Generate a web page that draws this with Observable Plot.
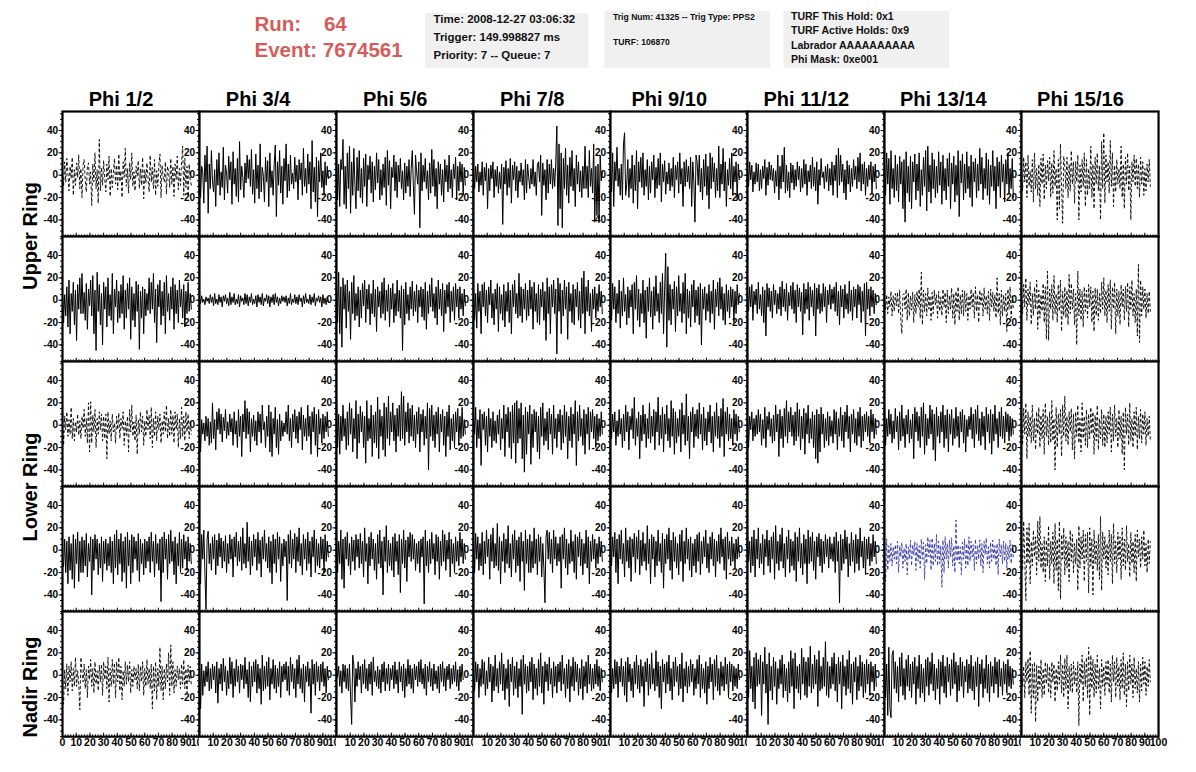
<!DOCTYPE html>
<html><head><meta charset="utf-8">
<script src="https://cdn.jsdelivr.net/npm/d3@7"></script>
<script src="https://cdn.jsdelivr.net/npm/@observablehq/plot@0.6"></script>
<style>
html,body{margin:0;padding:0;background:#fff;}
#root{position:relative;width:1196px;height:772px;overflow:hidden;font-family:"Liberation Sans",Arial,Helvetica,sans-serif;}
.panel{position:absolute;}
.panel svg{overflow:visible;display:block;background:#fff;max-width:none;font-family:"Liberation Sans",Arial,sans-serif;font-weight:bold;}
#overlay{position:absolute;left:0;top:0;}
</style></head><body><div id="root"></div>
<script>
// ---- labels ----
const phiTitles = ["Phi 1/2","Phi 3/4","Phi 5/6","Phi 7/8","Phi 9/10","Phi 11/12","Phi 13/14","Phi 15/16"];
const ringNames = ["Upper Ring","Lower Ring","Nadir Ring"];
const yTicks = [-40,-20,0,20,40];
const xTicks = [0,10,20,30,40,50,60,70,80,90,100];
const runText = "Run:    64";
const eventText = "Event: 7674561";
const box1Lines = ["Time: 2008-12-27 03:06:32","Trigger: 149.998827 ms","Priority: 7 -- Queue: 7"];
const box2Lines = ["Trig Num: 41325 -- Trig Type: PPS2","TURF: 106870"];
const box3Lines = ["TURF This Hold: 0x1","TURF Active Holds: 0x9","Labrador AAAAAAAAAA","Phi Mask: 0xe001"];
const DT = 0.79; // sample spacing (ns)

// ---- waveforms (mV): upper ring, top row ----
const U1_1=[4,-10,12,-6,15,2,-14,8,-3,16,-18,5,-9,11,-2,18,-12,6,-20,9,14,-4,-15,8,11,-8,3,-27,10,-6,20,-12,5,-25,32,-14,7,-9,13,-3,-15,10,-4,17,-19,6,-11,2,15,-8,9,-13,19,-6,4,-20,12,-2,24,-10,6,-16,11,-4,20,-10,3,-14,8,-1,13,-12,6,-9,16,-21,5,-7,11,-3,-15,18,-6,7,-12,14,-18,4,-10,9,19,-20,9,-2,-6,12,-17,8,3,-11,15,-8,8,-19,10,-4,17,-13,6,-9,12,26,-18,15,-11,8,-19,10,-4,-9];
const U1_2=[12,-20,8,3,-25,18,-6,26,-34,10,-12,22,-5,-15,5,-28,14,-9,20,-18,3,-11,25,-22,9,2,-16,17,-4,12,-26,21,-8,6,-19,15,-24,30,-13,8,-2,-20,11,-7,18,-3,14,-10,23,-17,5,-25,19,-12,9,-21,28,-15,7,-1,-24,16,-6,13,-28,20,-11,4,-18,10,27,-37,12,-9,22,-16,8,-26,15,-5,28,-20,10,-14,18,-8,2,-12,16,-6,9,-22,14,-4,11,-18,24,-10,6,-16,19,-8,12,-30,31,-15,7,-24,16,-37,13,-6,20,-11,4,-18,12,-9,8,-3];
const U1_3=[18,-22,10,-28,14,5,32,-26,8,-30,20,-12,26,-34,12,-18,24,-8,-30,16,-14,22,-20,6,-25,15,-10,19,-28,9,-4,17,-16,12,-24,8,-13,20,-7,14,-22,5,-18,10,-11,16,-27,22,-9,13,-30,7,-2,18,-14,12,-20,9,-6,15,-12,4,-22,11,-16,8,-10,14,-19,6,22,-9,-35,18,3,-8,12,-47,20,-14,9,-6,15,-12,4,-22,11,-16,23,-10,14,-19,6,-30,12,-8,10,-18,5,-24,14,-6,9,-15,18,-12,5,-20,10,-3,16,-22,8,-14,12,-6,10,-18,7,-9];
const U1_4=[4,-12,8,-6,10,-15,3,-9,12,-18,7,-5,11,-30,6,-14,9,-3,12,-20,5,-10,8,-16,3,-12,10,-44,7,-8,13,-18,6,-11,15,-25,9,-4,12,-14,8,-20,4,-6,11,-9,5,-22,14,-16,10,-2,-12,6,-8,14,-10,3,-18,9,12,-6,18,-36,11,-9,5,-22,14,-16,10,-8,14,-12,6,-10,12,44,-45,28,-30,20,-47,15,-12,24,-18,9,-25,16,-10,22,-14,6,-28,18,-8,12,-15,4,-20,8,-12,26,-12,8,-20,22,-10,6,-16,28,-42,8,-36,10,-40,18,-5,3];
const U1_5=[8,-15,20,-28,12,-5,25,-10,6,-18,10,-22,28,38,-18,-8,14,-20,6,-12,18,-25,9,-14,22,-30,12,-6,16,-11,20,-18,5,-10,14,-22,8,-16,12,-4,18,-20,7,-12,15,-9,20,-24,10,-6,13,-17,3,-8,11,-14,6,-10,16,-20,9,-4,12,-16,20,-8,6,-28,12,-10,14,-6,8,-12,16,-28,12,-6,-42,18,12,-9,18,-15,6,-22,14,-10,19,-18,8,-30,20,-12,16,-6,11,-20,6,-14,26,-20,10,-8,24,-14,12,-28,5,-9,15,-12,20,-18,8,-6,12,-22,10,-4];
const U1_6=[6,-10,12,-4,9,-15,3,-8,11,-6,10,-14,5,-12,8,-3,14,-18,7,-9,12,-4,9,-5,6,-16,4,-10,18,-22,8,-12,18,-6,25,-16,9,-14,3,-20,11,-7,9,-13,5,-10,12,-4,8,-15,6,-11,14,-8,10,-18,4,-6,9,-12,16,-10,7,-14,12,-26,5,-9,15,-2,3,-12,8,-6,10,-14,6,-9,12,-18,9,-5,18,-20,24,-9,18,-6,10,-16,5,-22,13,-8,9,-15,6,-10,14,-4,8,-12,16,-6,20,-14,10,-8,12,-18,6,-10,9,-4,12,-16,8,-6,10,-12];
const U1_7=[10,-18,20,-8,15,-26,22,-12,6,-20,18,-14,10,-24,17,-8,12,-30,14,-42,21,-16,8,-24,17,-30,12,-6,19,-22,10,-14,20,-28,5,-18,16,-10,22,-32,26,-15,9,-25,20,-12,14,-20,8,-16,21,-9,12,-26,18,-14,6,-22,15,-10,20,-30,11,-8,17,-24,9,-18,22,-37,13,-7,19,-22,10,-16,21,-12,8,-20,18,-28,12,-6,15,-20,10,-14,24,-8,16,-22,6,-12,20,-18,14,-26,9,-10,22,-14,8,-30,16,-10,12,-20,18,-6,10,-24,14,-8,20,-16,6,-12,15,-20];
const U1_8=[8,-14,16,-6,12,-20,18,-10,4,-15,14,-24,20,-12,6,-18,10,-28,15,-8,19,-22,9,-12,13,-5,16,-20,11,-16,22,-10,6,-40,14,-30,28,-10,-43,17,8,-12,16,-20,10,-14,22,-8,12,-25,12,-6,18,-40,9,-15,14,-10,20,-28,14,-18,6,-12,26,-20,10,-30,16,-8,20,-14,8,-40,30,-12,38,-25,18,-6,12,-16,31,-10,20,-28,9,-15,14,-8,6,-12,26,-20,10,-30,16,-8,20,-14,8,-40,12,-6,18,-10,15,-12,10,-20,16,-8,12,-18,6,-14,10,-6,14,-10];
// ---- upper ring, bottom row ----
const U2_1=[8,-20,5,-14,12,-24,18,-30,6,-10,16,-22,9,-36,14,-8,20,-12,24,-12,7,-18,15,-26,10,-5,18,-14,22,-30,9,-45,25,-10,14,-22,6,-40,16,-8,12,-24,20,-14,5,-18,24,-30,10,-6,18,-20,8,-16,14,-12,22,-26,9,-16,15,-8,20,-35,12,-18,6,-24,17,-10,14,-44,8,-16,12,-30,10,-14,6,-9,20,-12,16,-8,24,-20,10,-38,14,-6,18,-22,8,-14,16,-30,22,-10,6,-18,12,-8,20,-26,14,-12,9,-20,18,-6,10,-16,14,-24,8,-12,16,-10,6,-8];
const U2_2=[2,-3,4,-2,1,-4,3,-1,2,-3,5,-2,3,-5,6,-3,1,-4,5,-2,3,-6,4,-1,5,-3,2,-5,7,-4,3,-2,6,-4,1,-3,5,-6,4,-1,2,-4,6,-3,5,-5,3,-2,6,-4,1,-3,4,-6,5,-2,3,-4,6,-5,2,-1,5,-3,4,-6,3,-2,5,-4,6,-2,3,-5,2,-3,4,-1,3,-2,4,-5,2,-3,6,-4,1,-2,5,-3,3,-4,5,-1,2,-6,4,-3,6,-2,1,-3,5,-4,3,-2,6,-5,2,-1,4,-2,3,-6,5,-3,2,-4,3,-1];
const U2_3=[16,-20,25,-30,12,-42,20,-8,14,-25,18,-10,8,-35,16,-12,22,-18,6,-14,12,-24,9,-16,15,-5,18,-20,10,-8,14,-22,6,-12,18,-15,10,-28,12,-6,8,-16,16,-12,20,-18,9,-10,14,-24,11,-8,15,-20,6,-14,18,-10,9,-16,13,-45,10,-22,16,-12,5,-18,12,-8,17,-14,8,-10,14,-20,9,-6,12,-15,10,-18,16,-26,8,-12,14,-6,20,-10,6,-16,12,-22,18,-8,10,-14,15,-28,9,-12,14,-6,16,-20,8,-10,12,-18,15,-6,10,-16,12,-8,6,-14,10,-5];
const U2_4=[12,-18,6,-25,15,-10,8,-30,14,-6,16,-14,9,-20,12,-4,18,-16,6,-22,10,-8,15,-28,12,-12,5,-18,14,-24,8,-10,16,-20,9,-30,14,-6,18,-12,6,-16,24,-14,12,-20,10,-8,15,-18,9,-14,18,-8,12,-26,16,-10,6,-20,14,-22,10,-6,16,-18,8,-36,20,-12,12,-30,14,-6,18,-12,10,-48,20,-10,15,-30,9,-14,18,-8,12,-35,16,-10,6,-20,14,-22,10,-6,16,-18,8,-25,20,-12,26,-30,12,-10,18,-14,6,-28,10,-8,12,-16,6,-10,14,-6,8,-12];
const U2_5=[10,-18,15,-8,12,-20,6,-12,18,-25,8,-14,20,-10,5,-22,12,-16,9,-6,14,-30,16,-8,22,-18,10,-24,6,-12,18,-20,9,-34,12,-10,20,-15,8,-26,12,-14,22,-10,6,-20,16,-12,24,-30,10,42,-42,30,-18,14,-22,10,-8,17,-28,12,-14,22,-10,6,-20,16,-12,24,-30,10,-16,8,-24,14,-6,18,-20,9,-14,12,-22,15,-40,10,-8,12,-18,6,-10,14,-20,8,-12,18,-26,10,-6,16,-14,20,-8,12,-18,6,-22,14,-10,9,-16,12,-6,10,-20,8,-12,14,-4,6];
const U2_6=[6,-10,12,-6,14,-18,8,-4,10,-12,16,-8,5,-14,12,-20,9,-32,15,-6,11,-10,8,-16,14,-4,9,-12,6,-8,12,-14,17,-6,10,-10,15,-18,7,-5,13,-8,16,-12,9,-20,14,-6,11,-10,7,-31,15,-12,10,-8,16,-18,12,-6,9,-14,15,-32,11,-8,14,-12,6,-10,15,-6,12,-20,9,-4,14,-8,10,-3,12,-10,16,-14,8,-22,13,-6,10,-16,14,-8,6,-12,17,-10,9,-18,12,-6,10,-16,14,-4,12,-20,8,-10,15,-32,16,-8,10,-14,12,-6,9,-12,6,-4];
const U2_7=[2,-8,5,-12,3,-6,8,-14,4,-10,6,-5,7,-12,9,-16,-30,5,6,-8,10,-18,7,-14,4,-9,7,-20,5,-12,8,-6,10,-16,25,-22,9,-10,6,-14,11,-8,4,-18,7,-12,9,-4,5,-16,8,-10,3,-14,10,-6,7,-20,9,-12,4,-8,11,-16,6,-22,8,-10,12,-18,5,-12,9,-14,8,-10,6,-18,4,-8,10,-6,7,-16,12,-10,5,-20,9,-4,6,-14,11,-8,4,-12,8,-18,10,-6,7,-10,5,-16,20,-12,6,-22,9,-14,5,-10,6,-28,10,-8,12,-16,4,-8];
const U2_8=[8,-12,14,-6,20,-18,10,-4,16,-22,6,-14,12,-8,18,-26,9,-16,5,-10,15,-20,12,-35,26,-36,10,-8,14,-18,22,-12,6,-20,14,-10,18,-28,8,-14,12,-16,9,-22,23,-12,15,-8,10,-22,6,-40,26,-14,10,-18,8,-24,12,-10,9,-16,14,-6,12,-20,8,-28,11,-14,10,-18,6,-12,16,-8,20,-14,9,-20,14,-10,18,-26,12,-8,16,-30,10,-14,8,-22,14,-6,10,-18,12,-10,16,-24,12,-8,18,-14,6,-20,10,-32,32,-38,18,-14,12,-8,10,-16,6,-12,8,-10];
// ---- lower ring, top row ----
const L1_1=[15,-18,8,-4,12,-10,5,-8,16,-12,6,-14,3,-6,10,-9,4,-12,8,-3,14,-10,6,-16,20,-24,21,-16,9,-6,14,-20,6,-8,12,-4,10,-14,8,-12,10,-30,12,-8,4,-14,10,-6,2,-16,8,-4,11,-12,6,-3,12,-18,4,-9,8,-24,14,-6,18,-10,3,-14,9,-26,5,-8,12,-6,8,-18,4,-10,14,-4,9,-12,16,-20,6,-10,12,-14,8,-4,10,-16,4,-8,12,-6,18,-12,6,-10,14,-8,9,-16,12,-4,10,-20,6,-12,16,-10,8,-14,12,-6,10,-12,4,-8];
const L1_2=[4,-24,5,-8,2,-14,8,-10,6,-18,3,-16,20,-12,5,-22,12,-4,15,-8,10,-15,7,-5,14,-12,3,-9,10,-6,6,-18,12,-8,4,-20,14,-10,8,-28,10,-6,22,-12,15,-8,12,-24,6,-10,9,-14,4,-18,12,-6,10,-16,18,-4,3,-20,8,-10,18,-24,12,-28,6,-8,16,-20,5,-26,10,-14,4,-10,2,-6,12,-8,18,-14,6,-20,10,-6,14,-12,8,-16,12,-4,16,-22,9,-10,6,-14,18,-10,8,-26,12,-6,16,-18,10,-28,14,-8,6,-16,10,-12,8,-6,12,-10];
const L1_3=[25,-20,10,-26,8,-14,18,-10,6,-22,12,-18,20,-8,15,-24,6,-12,22,-30,10,-16,17,-6,12,-20,8,-34,22,-14,6,-12,18,-28,9,-16,12,-20,25,-30,14,-10,8,-22,20,-28,16,-12,26,-18,12,-6,20,-14,9,-24,15,-10,18,-14,30,-12,26,-18,12,-6,20,-16,15,-10,18,-14,9,-20,12,-8,16,-24,10,-6,14,-18,8,-12,20,-40,15,-10,18,-14,9,-20,12,-8,16,-24,10,-6,14,-18,8,-28,12,-10,18,-22,6,-14,10,-20,12,-6,15,-18,8,-12,16,-10,5,-8];
const L1_4=[10,-8,16,-20,5,-12,14,-36,10,-4,12,-18,8,-24,15,-10,6,-20,12,-14,4,-16,9,-8,14,-22,6,-12,18,-28,10,-6,16,-20,12,-30,18,-16,20,-34,22,-16,15,-12,20,-30,9,-42,16,-26,12,-8,18,-35,10,-20,14,-6,12,-24,8,-30,16,-10,20,-18,6,-14,12,-22,15,-8,10,-26,18,-12,6,-20,10,-6,14,-22,9,-16,18,-10,12,-30,8,-14,16,-20,10,-8,22,-36,12,-14,18,-10,6,-18,14,-26,10,-8,16,-22,12,-6,14,-12,8,-20,10,-14,6,-10,12,-8];
const L1_5=[8,-12,10,-6,12,-18,4,-10,14,-8,6,-20,10,-14,18,-6,12,-22,8,-4,15,-12,25,-18,6,-10,12,-30,9,-14,18,-8,10,-20,6,-12,20,-16,8,-10,14,-22,12,-6,25,-18,9,-12,16,-24,10,-8,18,-14,6,-20,22,-10,15,-26,12,-16,6,-10,14,-24,20,-8,9,-18,28,-14,8,-30,12,-6,16,-20,10,-10,14,-12,20,-8,10,-22,16,-14,6,-18,12,-6,18,-16,8,-24,12,-10,20,-12,8,-20,15,-10,24,-28,12,-8,16,-14,10,-12,6,-18,14,-8,10,-14,8,-6];
const L1_6=[10,-20,8,-4,12,-14,6,-10,9,-8,14,-6,10,-18,5,-12,16,-20,8,-4,12,-10,6,-16,9,-14,18,-6,10,-28,14,-12,8,-20,15,-10,22,-16,12,-6,16,-10,9,-18,12,-14,20,-10,14,-22,8,-12,15,-26,11,-8,18,-16,6,-12,12,-20,9,-30,14,-34,10,-24,16,-8,10,-20,6,-14,12,-18,8,-10,4,-16,14,-8,12,-22,6,-10,16,-14,9,-20,12,-6,18,-12,8,-24,10,-8,14,-16,6,-18,12,-10,16,-20,8,-14,10,-6,12,-10,8,-16,14,-6,10,-12,6,-8];
const L1_7=[20,-18,6,-10,14,-8,10,-16,4,-12,15,-6,8,-22,12,-14,18,-10,6,-20,9,-8,14,-16,5,-12,10,-30,16,-6,12,-14,8,-20,16,-10,20,-26,10,-18,6,-12,18,-8,14,-22,10,-32,16,-10,8,-16,12,-6,18,-20,9,-12,14,-24,10,-8,14,-18,6,-12,16,-10,8,-20,12,-6,14,-16,9,-24,5,-10,8,-4,16,-12,10,-20,14,-8,18,-14,6,-18,12,-10,8,-22,16,-6,10,-16,14,-26,10,-14,18,-8,6,-20,12,-10,16,-12,8,-16,12,-6,10,-14,8,-10,6,-8];
const L1_8=[10,-18,15,-8,20,-30,12,-10,8,-16,18,-14,6,-22,12,-8,16,-20,9,-12,14,-26,20,-10,8,-18,12,-16,22,-14,6,-40,16,-20,10,-8,14,-28,18,-10,26,-14,8,-18,12,-6,15,-22,10,-30,12,-10,18,-16,6,-24,20,-12,8,-18,14,-20,10,-12,16,-8,12,-26,9,-14,18,-22,6,-12,14,-18,10,-20,8,-16,12,-8,16,-24,10,-14,18,-10,6,-20,14,-12,8,-26,12,-40,16,-8,10,-18,20,-14,6,-20,12,-10,16,-22,8,-12,14,-16,10,-8,12,-18,6,-10,8,-14];
// ---- lower ring, bottom row ----
const L2_1=[-8,-15,10,-20,8,-30,12,-18,6,-26,14,-34,10,-12,16,-28,8,-20,12,-20,9,-14,15,-24,6,-10,12,-40,10,-18,14,-8,10,-22,6,-16,12,-28,8,-12,10,-18,6,-14,12,-20,8,-30,14,-16,18,-22,10,-12,15,-28,8,-20,12,-34,16,-14,9,-30,14,-20,12,-8,8,-18,15,-28,10,-12,6,-22,10,-16,8,-10,12,-20,16,-10,8,-24,14,-12,6,-18,10,-46,12,-20,16,-8,10,-26,14,-12,18,-10,8,-22,12,-30,6,-14,16,-20,10,-16,14,-8,8,-18,12,-10,6,-12];
const L2_2=[16,-30,14,-8,18,-20,-53,10,17,-12,6,-18,12,-8,14,-22,9,-14,15,-6,11,-16,8,-10,13,-20,6,-12,14,-8,10,-24,12,-6,16,-14,8,-10,12,-18,20,-12,6,-16,25,-10,12,-22,8,-14,14,-6,10,-18,16,-12,9,-24,12,-8,18,-10,6,-16,12,-20,8,-30,14,-12,10,-20,16,-8,12,-28,6,-14,10,-6,8,-45,14,-12,18,-16,10,-8,15,-20,12,-10,20,-14,6,-22,14,-8,10,-18,16,-12,8,-24,12,-6,18,-20,10,-14,6,-16,12,-8,10,-20,14,-10,8,-6];
const L2_3=[15,-20,8,-12,18,-26,10,-34,12,-8,16,-14,6,-22,12,-10,9,-18,14,-6,10,-16,15,-12,8,-24,20,-10,6,-30,12,-14,16,-8,10,-18,6,-26,14,-12,18,-16,8,-40,12,-10,22,-20,9,-14,6,-18,12,-24,15,-10,8,-22,14,-38,10,-12,18,-16,9,-28,12,-6,16,-10,14,-8,10,-18,6,-12,8,-20,10,-6,12,-48,18,-14,8,-20,10,-12,16,-8,6,-22,14,-10,12,-26,8,-14,18,-10,14,-18,9,-8,16,-24,10,-12,6,-20,12,-10,8,-14,16,-6,10,-12,6,-8];
const L2_4=[10,-20,15,-8,12,-18,6,-14,16,-22,8,-12,18,-6,10,-26,14,-10,20,-16,6,-14,24,-18,12,-30,8,-10,15,-20,10,-12,22,-16,6,-24,14,-8,18,-20,9,-14,12,-28,16,-10,8,-36,18,-12,10,-20,14,-20,8,-16,20,-12,10,-22,14,-10,12,-24,6,-16,-47,12,18,-8,16,-12,10,-20,18,-8,12,-14,6,-10,12,-34,14,-8,20,-16,10,-22,6,-12,18,-10,8,-20,14,-26,12,-6,16,-14,10,-22,6,-12,18,-16,12,-30,8,-10,14,-8,10,-16,6,-12,12,-6,8,-10];
const L2_5=[8,-14,12,-6,16,-20,10,-30,14,-8,18,-12,6,-24,20,-10,9,-16,12,-28,10,-6,15,-20,12,-8,18,-22,9,-14,16,-10,6,-18,22,-12,10,-30,14,-8,12,-24,8,-14,18,-10,6,-20,15,-34,10,-12,14,-8,20,-18,9,-26,16,-10,12,-16,6,-22,14,-10,18,-28,8,-12,20,-8,10,-18,12,-24,6,-14,10,-20,14,-10,16,-22,8,-12,12,-6,18,-16,6,-20,12,-8,16,-14,10,-24,8,-10,14,-12,20,-6,10,-18,12,-26,16,-8,8,-14,12,-10,6,-16,10,-8,12,-6];
const L2_6=[15,-10,8,-20,12,-14,18,-24,10,-8,20,-16,6,-12,14,-22,10,-6,18,-14,9,-20,12,-8,16,-26,22,-12,8,-18,14,-10,20,-16,6,-24,12,-8,18,-20,10,-14,8,-18,16,-28,12,-10,20,-16,6,-22,14,-12,10,-30,18,-12,12,-10,16,-18,8,-26,12,-6,15,-14,10,-20,8,-12,14,-6,10,-16,12,-8,6,-10,12,-20,16,-10,8,-47,14,-18,10,-12,18,-8,12,-24,6,-14,16,-10,9,-20,14,-12,10,-18,20,-6,8,-16,12,-22,10,-8,12,-14,6,-10,14,-6,8,-12];
const L2_7=[8,-28,10,-18,4,-10,6,-14,3,-8,5,-12,8,-20,4,-6,7,-16,2,-10,6,-22,3,-8,9,-14,5,-4,8,-18,6,-10,4,-16,10,-8,7,-26,5,-12,12,-6,9,-18,11,-14,6,-10,14,-14,8,-12,4,-33,9,-20,12,-8,6,-16,9,-6,11,-14,4,-20,27,-10,5,-12,3,-22,7,-8,10,-16,6,-14,12,-10,8,-6,5,-18,10,-12,4,-8,9,-14,6,-20,8,-4,11,-12,3,-16,7,-10,9,-8,4,-14,6,-22,10,-6,5,-12,8,-10,6,-16,4,-8,9,-12,5,-6];
const L2_8=[10,-18,26,-8,-45,20,-12,24,-30,8,-14,18,-6,12,-22,26,-10,30,-16,6,-20,12,-28,9,-14,22,-26,8,-12,16,-30,24,-18,10,-36,26,-44,14,-8,20,-22,12,-16,8,-28,18,-10,14,-20,6,-12,10,-36,22,-16,12,-8,18,-28,14,-10,16,-38,20,-14,10,-40,18,-12,8,-18,14,-26,30,-36,16,-8,12,-16,6,-22,18,-10,14,-30,24,-12,8,-20,16,-8,12,-26,20,-14,10,-18,22,-10,6,-24,16,-12,8,-20,14,-28,18,-6,10,-16,12,-8,18,-14,6,-20,10,-12,8];
// ---- nadir ring ----
const N_1=[-20,-26,5,-12,10,-18,8,-6,12,-14,6,-10,16,-10,4,-8,-31,16,3,-6,10,-12,5,-20,8,-4,14,-10,6,-16,12,-8,4,-14,9,-6,10,-18,12,-4,8,-12,16,-24,6,-10,14,-8,11,-20,12,-6,16,-14,8,-22,4,-10,12,-8,9,-6,12,-16,5,-10,8,-4,6,-12,10,-14,8,-6,12,-18,6,-10,14,-8,6,-12,10,-30,8,-14,12,-22,6,-10,25,-14,8,-22,6,-12,10,-6,20,-18,27,-10,12,-16,5,-10,8,-4,6,-12,10,-8,14,-12,6,-16,9,-6,8,-10];
const N_2=[14,-30,10,-18,4,-10,8,-6,12,-14,6,-12,10,-4,8,-16,12,-25,6,-8,10,-14,15,-6,8,-18,4,-12,16,-8,12,-20,6,-10,14,-6,8,-16,10,-4,9,-12,16,-8,5,-20,12,-24,8,-10,12,-6,14,-16,10,-12,6,-26,18,-14,8,-12,12,-10,16,-22,6,-8,14,-12,9,-16,6,-10,12,-20,8,-6,10,-4,12,-14,8,-18,16,-6,10,-12,6,-20,14,-8,18,-12,6,-16,10,-24,8,-6,12,-10,6,-34,14,-8,10,-18,12,-6,8,-14,10,-6,12,-10,6,-16,8,-4];
const N_3=[5,-2,8,-10,4,-16,10,-6,9,-12,6,-14,10,-20,-44,18,9,-24,6,-10,12,-4,8,-16,10,-8,14,-12,6,-14,10,-8,12,-18,16,-6,4,-10,8,-12,5,-16,10,-6,12,-14,6,-8,10,-14,6,-4,9,-12,12,-8,5,-16,12,-6,8,-14,10,-20,6,-10,14,-8,9,-12,6,-16,10,-4,8,-10,12,-6,14,-8,6,-12,10,-18,8,-6,12,-10,6,-14,10,-8,4,-12,8,-16,10,-6,12,-10,6,-14,8,-4,10,-12,6,-8,9,-6,12,-10,5,-14,8,-6,10,-4];
const N_4=[8,-14,12,-6,10,-20,6,-10,14,-8,12,-18,4,-12,16,-6,10,-24,8,-14,18,-10,6,-16,12,-8,20,-14,10,-22,6,-12,14,-28,10,-6,16,-18,8,-12,12,-20,6,-10,14,-35,18,-8,10,-16,8,-14,12,-6,16,-22,10,-12,6,-18,14,-10,20,-16,8,-26,12,-6,10,-14,16,-8,6,-20,12,-10,8,-16,10,-6,12,-14,18,-8,6,-20,10,-12,14,-24,8,-10,16,-14,12,-6,10,-18,6,-12,14,-22,8,-10,12,-16,18,-8,10,-14,6,-12,10,-8,14,-10,8,-14,6,-6];
const N_5=[10,-16,6,-12,14,-8,12,-20,8,-6,15,-10,8,-18,12,-24,16,-6,10,-14,6,-20,12,-8,18,-12,9,-16,14,-10,8,-28,12,-6,15,-18,10,-12,20,-8,6,-14,22,-10,12,-20,8,-30,14,-6,10,-16,12,-8,18,-14,6,-22,12,-10,16,-6,8,-18,10,-12,20,-24,6,-10,12,-16,8,-10,14,-6,10,-18,6,-12,14,-8,18,-20,10,-12,6,-16,12,-26,8,-12,16,-6,10,-22,14,-10,18,-14,6,-18,12,-10,8,-14,16,-8,10,-20,12,-6,10,-14,8,-10,6,-12,10,-4];
const N_6=[10,-20,22,-12,8,-24,16,-30,20,-10,14,-8,18,-36,12,-8,25,-16,10,-44,20,-14,8,-22,16,-10,12,-26,6,-12,14,-8,18,-20,10,-14,6,-24,12,-16,22,-10,15,-30,20,-12,8,-16,10,-22,24,-8,16,-18,12,-20,16,-10,26,-16,10,-12,18,-8,14,-28,22,-14,8,-12,16,-10,30,-18,12,-20,8,-12,16,-8,20,-14,10,-24,16,-8,12,-30,18,-10,8,-18,14,-12,22,-16,10,-26,12,-6,16,-22,8,-14,18,-10,12,-20,10,-16,14,-8,10,-18,12,-6,8,-14,10,-10];
const N_7=[15,-20,10,-36,25,-30,-38,18,22,-12,12,-16,8,-24,16,-10,20,-18,6,-22,14,-10,18,-14,10,-20,12,-8,16,-26,8,-12,18,-20,10,-16,6,-24,14,-10,16,-18,12,-8,20,-14,10,-22,6,-12,14,-26,12,-10,18,-16,8,-20,16,-6,10,-18,14,-12,20,-8,12,-24,9,-14,16,-10,12,-20,8,-6,14,-16,10,-12,18,-14,8,-22,12,-10,16,-28,10,-8,14,-20,6,-12,18,-16,10,-24,12,-10,8,-16,16,-8,12,-20,14,-10,6,-18,12,-8,10,-16,14,-10,8,-12,6,-8];
const N_8=[5,-10,8,-20,12,-6,15,-18,22,-34,10,-20,12,-42,9,-24,8,-12,14,-20,6,-18,12,-8,10,-16,8,-20,12,-6,10,-24,6,-14,12,-8,18,-16,10,-20,15,-12,18,-30,8,-14,10,-16,12,-8,6,-16,12,-45,10,-8,18,-24,12,-10,16,-20,25,-36,18,-12,14,-20,10,-16,18,-12,6,-30,14,-10,8,-18,12,-8,14,-16,10,-24,18,-6,12,-20,16,-10,8,-22,14,-12,20,-18,10,-28,12,-14,18,-8,10,-20,16,-12,6,-16,12,-24,10,-14,16,-8,12,-18,8,-10,14,-6];

const waves = [
  [U1_1,U1_2,U1_3,U1_4,U1_5,U1_6,U1_7,U1_8],
  [U2_1,U2_2,U2_3,U2_4,U2_5,U2_6,U2_7,U2_8],
  [L1_1,L1_2,L1_3,L1_4,L1_5,L1_6,L1_7,L1_8],
  [L2_1,L2_2,L2_3,L2_4,L2_5,L2_6,L2_7,L2_8],
  [N_1,N_2,N_3,N_4,N_5,N_6,N_7,N_8]
];

// ---- styles & layout ----
const dashedMask = [[1,0,0,0,0,0,0,1],[0,0,0,0,0,0,1,1],[1,0,0,0,0,0,0,1],[0,0,0,0,0,0,1,1],[1,0,0,0,0,0,0,1]];
const blueMask = [[0,0,0,0,0,0,0,0],[0,0,0,0,0,0,0,0],[0,0,0,0,0,0,0,0],[0,0,0,0,0,0,1,0],[0,0,0,0,0,0,0,0]];
const X0 = 62, CW = 137.06, Y0 = 110.5, RH = 125.2, LB = 18;
const root = document.getElementById("root");

// header / titles overlay
const ov = d3.create("svg").attr("id","overlay").attr("width",1196).attr("height",772)
  .style("font-family",'"Liberation Sans",Arial,sans-serif').style("font-weight","bold");
ov.append("text").attr("x",254.5).attr("y",30.5).attr("font-size",20.5).attr("fill","#d65c5a").style("white-space","pre").text(runText);
ov.append("text").attr("x",254.5).attr("y",57).attr("font-size",20.5).attr("fill","#d65c5a").text(eventText);
ov.append("rect").attr("x",425).attr("y",13).attr("width",163.5).attr("height",55).attr("fill","#f0f0f0");
box1Lines.forEach((t,i)=>ov.append("text").attr("x",433.5).attr("y",23+i*18).attr("font-size",11.5).attr("fill","#111").text(t));
ov.append("rect").attr("x",604.5).attr("y",11).attr("width",165.5).attr("height",57).attr("fill","#f0f0f0");
box2Lines.forEach((t,i)=>ov.append("text").attr("x",613).attr("y",20+i*25).attr("font-size",8.6).attr("fill","#111").text(t));
ov.append("rect").attr("x",783.5).attr("y",11).attr("width",165.5).attr("height",57).attr("fill","#f0f0f0");
box3Lines.forEach((t,i)=>ov.append("text").attr("x",791).attr("y",20+i*14.3).attr("font-size",10.5).attr("fill","#111").text(t));
phiTitles.forEach((t,c)=>ov.append("text").attr("x",X0+CW*(c+0.5)-9.5).attr("y",106).attr("text-anchor","middle").attr("font-size",20).attr("fill","#000").text(t));
[[ringNames[0],236],[ringNames[1],487],[ringNames[2],687]].forEach(([t,yc])=>
  ov.append("text").attr("transform",`translate(36.5,${yc}) rotate(-90)`).attr("text-anchor","middle").attr("font-size",20).attr("fill","#000").text(t));
root.appendChild(ov.node());

function panel(r, c) {
  const vals = waves[r][c];
  const data = vals.map((v, i) => ({t: i * DT, v}));
  const last = r === 4;
  const dashed = dashedMask[r][c];
  const color = blueMask[r][c] ? "#3535a5" : "#000";
  const marks = [
    Plot.line(data, {x: "t", y: "v", stroke: color, strokeWidth: dashed ? 0.9 : 1, strokeDasharray: dashed ? "2.5,3" : null}),
    Plot.axisY(yTicks, {tickSize: 3.5, tickPadding: 1, fontSize: 10, fontWeight: "bold", label: null, tickFormat: d => String(d)}),
    Plot.axisY(d3.range(-55, 57, 5), {tickSize: 2, fill: "none", label: null}),
    Plot.axisX(xTicks, {tickSize: -3.5, fill: "none", label: null}),
    Plot.axisX(d3.range(0, 101, 2), {tickSize: -1.8, fill: "none", label: null}),
    Plot.frame({stroke: "#000", strokeWidth: 2.2})
  ];
  if (last) marks.push(Plot.axisX(xTicks, {tickSize: 0, tickPadding: 2, fontSize: 10.5, fontWeight: "bold", label: null,
    tickFormat: d => (c > 0 && d === 0) ? "" : String(d)}));
  const p = Plot.plot({
    width: CW, height: RH + (last ? LB : 0),
    marginTop: 0, marginRight: 0, marginLeft: 0, marginBottom: last ? LB : 0,
    x: {domain: [0, 100], label: null},
    y: {domain: [-55, 57], label: null},
    marks
  });
  const div = document.createElement("div");
  div.className = "panel";
  div.style.left = (X0 + c * CW) + "px";
  div.style.top = (Y0 + r * RH) + "px";
  div.style.width = CW + "px";
  div.appendChild(p);
  root.appendChild(div);
}
for (let r = 0; r < 5; r++) for (let c = 0; c < 8; c++) panel(r, c);
</script></body></html>
